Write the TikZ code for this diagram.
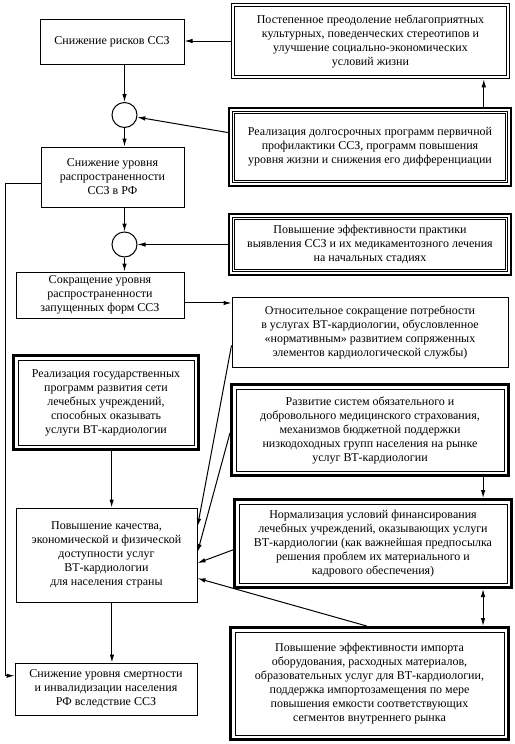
\documentclass[tikz,border=0pt]{standalone}
\usepackage{fontspec}
\setmainfont{Liberation Serif}
\usetikzlibrary{calc,arrows.meta}
\tikzset{
  base/.style={align=center, font=\fontsize{12}{14}\selectfont, inner sep=0pt},
  plain/.style={base, draw, line width=1pt},
  dbl/.style={base, draw, line width=1.5pt,
    path picture={\draw[line width=1pt] ([shift={(3.25pt,3.25pt)}]path picture bounding box.south west) rectangle ([shift={(-3.25pt,-3.25pt)}]path picture bounding box.north east);}},
  trpl/.style={base, draw, line width=2.5pt,
    path picture={\draw[line width=1pt] ([shift={(3.25pt,3.25pt)}]path picture bounding box.south west) rectangle ([shift={(-3.25pt,-3.25pt)}]path picture bounding box.north east);
      \draw[line width=1pt] ([shift={(5.75pt,5.75pt)}]path picture bounding box.south west) rectangle ([shift={(-5.75pt,-5.75pt)}]path picture bounding box.north east);}},
  thk/.style={base, draw, line width=3pt,
    path picture={\draw[line width=1pt] ([shift={(4.5pt,4.5pt)}]path picture bounding box.south west) rectangle ([shift={(-4.5pt,-4.5pt)}]path picture bounding box.north east);}},
  circ/.style={circle, draw, line width=1pt, minimum size=25pt, inner sep=0pt},
  arr/.style={line width=1pt, -{Latex[length=8pt,width=4.5pt]}},
  darr/.style={line width=1pt, {Latex[length=8pt,width=4.5pt]}-{Latex[length=8pt,width=4.5pt]}},
  ln/.style={line width=1pt}
}
\begin{document}
\begin{tikzpicture}[x=1pt,y=-1pt]
\useasboundingbox (0,0) rectangle (514,744);
% left column
\node[plain, minimum width=144pt, minimum height=45pt] (a1) at (112,41.5) {Снижение рисков ССЗ};
\node[circ] (c1) at (124.5,115) {};
\node[plain, minimum width=143pt, minimum height=60pt] (a2) at (112.5,177) {Снижение уровня\\распространенности\\ССЗ в РФ};
\node[circ] (c2) at (124.5,244.5) {};
\node[plain, minimum width=168pt, minimum height=46pt] (a3) at (100,295) {Сокращение уровня\\распространенности\\запущенных форм ССЗ};
\node[thk, minimum width=185pt, minimum height=94pt] (a4) at (106,402.5) {Реализация государственных\\программ развития сети\\лечебных учреждений,\\способных оказывать\\услуги ВТ-кардиологии};
\node[plain, minimum width=181pt, minimum height=94pt] (a5) at (106.5,555) {Повышение качества,\\экономической и физической\\доступности услуг\\ВТ-кардиологии\\для населения страны};
\node[plain, minimum width=182pt, minimum height=52pt] (a6) at (106,689) {Снижение уровня смертности\\и инвалидизации населения\\РФ вследствие ССЗ};
% right column
\node[dbl, minimum width=278pt, minimum height=75pt] (r1) at (370.5,41) {Постепенное преодоление неблагоприятных\\культурных, поведенческих стереотипов и\\улучшение социально-экономических\\условий жизни};
\node[trpl, minimum width=282pt, minimum height=78pt] (r2) at (370,147) {Реализация долгосрочных программ первичной\\профилактики ССЗ, программ повышения\\уровня жизни и снижения его дифференциации};
\node[trpl, minimum width=282pt, minimum height=61pt] (r3) at (370,244.5) {Повышение эффективности практики\\выявления ССЗ и их медикаментозного лечения\\на начальных стадиях};
\node[plain, minimum width=276pt, minimum height=70pt] (r4) at (370,332) {Относительное сокращение потребности\\в услугах ВТ-кардиологии, обусловленное\\«нормативным» развитием сопряженных\\элементов кардиологической службы)};
\node[thk, minimum width=277pt, minimum height=91pt] (r5) at (370,430) {Развитие систем обязательного и\\добровольного медицинского страхования,\\механизмов бюджетной поддержки\\низкодоходных групп населения на рынке\\услуг ВТ-кардиологии};
\node[thk, minimum width=277pt, minimum height=88pt] (r6) at (373,543.5) {Нормализация условий финансирования\\лечебных учреждений, оказывающих услуги\\ВТ-кардиологии (как важнейшая предпосылка\\решения проблем их материального и\\кадрового обеспечения)};
\node[thk, minimum width=278pt, minimum height=112pt] (r7) at (369.5,683.5) {Повышение эффективности импорта\\оборудования, расходных материалов,\\образовательных услуг для ВТ-кардиологии,\\поддержка импортозамещения по мере\\повышения емкости соответствующих\\сегментов внутреннего рынка};
% helper coordinates
\coordinate (r2t) at ($(r2.north west)!0.9!(r2.north east)$);
\coordinate (r2l) at ($(r2.north west)!0.32!(r2.south west)$);
\coordinate (a3r) at ($(a3.north east)!0.67!(a3.south east)$);
\coordinate (a2l) at ($(a2.north west)!0.6!(a2.south west)$);
\coordinate (a6l) at ($(a6.north west)!0.25!(a6.south west)$);
\coordinate (k1) at (5,0);
\coordinate (r4l) at ($(r4.north west)!0.69!(r4.south west)$);
\coordinate (a5e1) at ($(a5.north east)!0.2!(a5.south east)$);
\coordinate (r5l) at ($(r5.north west)!0.53!(r5.south west)$);
\coordinate (a5e2) at ($(a5.north east)!0.47!(a5.south east)$);
\coordinate (r6l) at ($(r6.north west)!0.57!(r6.south west)$);
\coordinate (a5e3) at ($(a5.north east)!0.585!(a5.south east)$);
\coordinate (r7t) at ($(r7.north west)!0.49!(r7.north east)$);
\coordinate (a5e4) at ($(a5.north east)!0.745!(a5.south east)$);
\coordinate (a4b) at ($(a4.south west)!0.53!(a4.south east)$);
\coordinate (a5b) at ($(a5.south west)!0.53!(a5.south east)$);
\coordinate (r5b) at ($(r5.south west)!0.904!(r5.south east)$);
\coordinate (r6b) at ($(r6.south west)!0.893!(r6.south east)$);
% connectors
\draw[arr] (r1.west) -- (a1.east |- r1.west);
\draw[arr] (c1 |- a1.south) -- (c1.north);
\draw[arr] (r2t) -- (r2t |- r1.south);
\draw[arr] (r2l) -- (c1);
\draw[arr] (c1.south) -- (c1.south |- a2.north);
\draw[arr] (c2 |- a2.south) -- (c2.north);
\draw[arr] (r3.west) -- (c2.east);
\draw[arr] (c2.south) -- (c2.south |- a3.north);
\draw[arr] (a3r) -- (r4.west |- a3r);
\draw[arr] (a2l) -- (k1 |- a2l) -- (k1 |- a6l) -- (a6l);
\draw[arr] (r4l) -- (a5e1);
\draw[arr] (r5l) -- (a5e2);
\draw[arr] (r6l) -- (a5e3);
\draw[arr] (r7t) -- (a5e4);
\draw[arr] (a4b) -- (a4b |- a5.north);
\draw[arr] (a5b) -- (a5b |- a6.north);
\draw[arr] (r5b) -- (r5b |- r6.north);
\draw[darr] (r6b) -- (r6b |- r7.north);
\end{tikzpicture}
\end{document}
